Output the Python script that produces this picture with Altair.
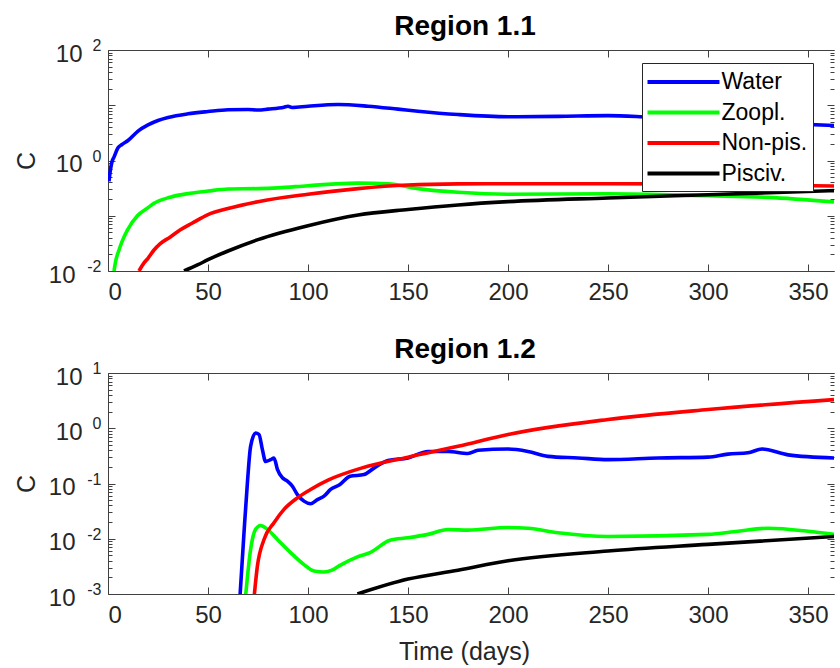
import altair as alt
import pandas as pd

SERIES = ["Water", "Zoopl.", "Non-pis.", "Pisciv."]
COLORS = ["#0000ff", "#00ff00", "#ff0000", "#000000"]
X_TICKS = [0, 50, 100, 150, 200, 250, 300, 350]

# ---------------- Region 1.1 ----------------
r1_water_day = [0.5, 1, 2, 3, 5, 7, 10, 15, 20, 25, 30, 40, 50, 60, 70, 75, 80, 88, 90, 92,
                100, 115, 130, 145, 155, 175, 200, 225, 250, 270, 300, 330, 363]
r1_water_c = [0.42, 0.6, 0.95, 1.15, 1.7, 1.95, 2.3, 3.4, 4.4, 5.3, 6.0, 7.0, 7.7, 8.3, 8.4, 8.2,
              8.5, 9.2, 9.6, 9.1, 9.6, 10.3, 9.6, 8.5, 7.8, 6.8, 6.2, 6.3, 6.5, 6.1, 5.4, 4.8, 4.3]
r1_zoo_day = [3, 4, 5.5, 7, 9.7, 14.7, 20, 23, 31, 41, 50, 60, 75, 85, 100, 125, 140, 155, 175,
              200, 250, 300, 330, 363]
r1_zoo_c = [0.01, 0.016, 0.024, 0.034, 0.055, 0.1, 0.14, 0.168, 0.216, 0.255, 0.28, 0.305, 0.31,
            0.32, 0.35, 0.39, 0.38, 0.31, 0.266, 0.245, 0.25, 0.23, 0.215, 0.178]
r1_non_day = [15.5, 18, 20, 23, 26, 31, 36, 42, 50, 60, 75, 100, 125, 150, 175, 200, 250, 300, 363]
r1_non_c = [0.01, 0.014, 0.017, 0.024, 0.031, 0.041, 0.055, 0.073, 0.105, 0.135, 0.18, 0.245,
            0.31, 0.36, 0.377, 0.38, 0.38, 0.375, 0.345]
r1_pis_day = [38, 45, 50, 60, 75, 100, 125, 150, 175, 200, 250, 300, 363]
r1_pis_c = [0.01, 0.013, 0.016, 0.023, 0.037, 0.066, 0.103, 0.13, 0.157, 0.18, 0.21, 0.24, 0.285]

# ---------------- Region 1.2 ----------------
r2_water_day = [65.8, 68, 69.7, 71.3, 73.8, 75.5, 77.2, 78.8, 81.3, 83, 84.7, 87.2, 89.7, 92.2,
                94.7, 98, 101.3, 104.7, 108, 111.3, 116, 121, 128, 133, 140, 150, 160, 170, 180,
                185, 200, 210, 220, 235, 250, 275, 300, 310, 320, 327, 340, 363]
r2_water_c = [0.0007, 0.0129, 0.103, 0.47, 0.82, 0.77, 0.41, 0.25, 0.27, 0.29, 0.18, 0.127, 0.11,
              0.089, 0.063, 0.048, 0.043, 0.051, 0.059, 0.078, 0.096, 0.135, 0.145, 0.19, 0.26,
              0.29, 0.38, 0.38, 0.35, 0.40, 0.42, 0.38, 0.31, 0.29, 0.27, 0.29, 0.30, 0.34, 0.36,
              0.42, 0.33, 0.29]
r2_zoo_day = [68.5, 71.3, 73.8, 76.3, 79.7, 84.7, 91.3, 98, 103, 108, 112, 116, 124.7, 131, 141,
              150, 160, 170, 180, 200, 210, 225, 250, 300, 315, 330, 350, 363]
r2_zoo_c = [0.0007, 0.0064, 0.0148, 0.0174, 0.0148, 0.0097, 0.0056, 0.0034, 0.0026, 0.0025,
            0.0027, 0.0033, 0.0047, 0.0056, 0.0094, 0.0104, 0.012, 0.0147, 0.0143, 0.016, 0.0155,
            0.0128, 0.011, 0.012, 0.0137, 0.0155, 0.0137, 0.012]
r2_non_day = [72.8, 74.7, 78, 83, 88, 94.7, 101.3, 110, 126.7, 150, 175, 200, 250, 300, 363]
r2_non_c = [0.0007, 0.0032, 0.0097, 0.0195, 0.034, 0.055, 0.078, 0.115, 0.19, 0.30, 0.47, 0.77,
            1.44, 2.18, 3.3]
r2_pis_day = [124.7, 150, 175, 200, 250, 300, 363]
r2_pis_c = [0.001, 0.00186, 0.0027, 0.004, 0.006, 0.0079, 0.011]

FONT = "Liberation Sans"
AX = "#404040"
W, H = 726, 221


def frame(parts):
    rows = []
    for name, days, vals in parts:
        for d, v in zip(days, vals):
            rows.append({"day": d, "C": v, "series": name})
    return pd.DataFrame(rows)


def tick_axis(orient, values, size, domain=False):
    return alt.Axis(orient=orient, values=values, labels=False, domain=domain, domainColor=AX,
                    ticks=True, tickSize={"expr": str(-size)}, tickColor=AX, title=None,
                    minExtent=0, grid=False)


def panel(df, lo, hi, label_values, title, xtitle, legend):
    majors = [10.0 ** e for e in range(lo, hi + 1)]
    minors = [k * 10.0 ** e for e in range(lo, hi) for k in range(2, 10)]
    xs = alt.Scale(domain=[0, 363], nice=False, zero=False)
    ys = alt.Scale(type="log", domain=[10.0 ** lo, 10.0 ** hi], nice=False)
    base = alt.Chart(df)

    xaxis_kw = dict(orient="bottom", values=X_TICKS, ticks=False, tickSize=0, labelPadding=9,
                    domain=True, domainColor=AX, labelFontSize=24, minExtent=0)
    if xtitle:
        xaxis_kw.update(title=xtitle, titleX=356, titleY=65, titleBaseline="alphabetic",
                        titleFontSize=25, titleFontWeight="normal")
    else:
        xaxis_kw.update(title=None)

    lines = base.mark_line(strokeWidth=3.6, clip=True, interpolate="monotone").encode(
        x=alt.X("day:Q", scale=xs, axis=alt.Axis(**xaxis_kw)),
        y=alt.Y("C:Q", scale=ys, axis=alt.Axis(
            orient="left", values=label_values, labelExpr="'10'", ticks=False, tickSize=0,
            labelPadding={"condition": {"test": "datum.value < 1", "value": 33}, "value": 26},
            labelOffset=4, labelFontSize=24, domain=True, domainColor=AX, minExtent=0,
            title="C", titleX=-74, titleY=110.5, titleAngle=270, titleAlign="center",
            titleBaseline="alphabetic", titleFontSize=25, titleFontWeight="normal")),
        color=alt.Color("series:N", scale=alt.Scale(domain=SERIES, range=COLORS), legend=legend),
    )

    def ghost(xaxis, yaxis):
        return base.mark_point(opacity=0, clip=True).encode(
            x=alt.X("day:Q", scale=xs, axis=xaxis),
            y=alt.Y("C:Q", scale=ys, axis=yaxis),
        )

    g1 = ghost(tick_axis("bottom", X_TICKS, 7), tick_axis("left", majors, 7))
    g2 = ghost(tick_axis("top", X_TICKS, 7, domain=True), tick_axis("right", majors, 7))
    g3 = ghost(None, tick_axis("left", minors, 4))
    g4 = ghost(None, tick_axis("right", minors, 4))
    g5 = ghost(None, alt.Axis(
        orient="left", values=label_values, labelExpr="'' + round(log(datum.value)/LN10)",
        labelFontSize=16, labelAlign="right", labelPadding=7, labelOffset=-4.5,
        ticks=False, tickSize=0, domain=False, title=None, minExtent=0))

    return alt.layer(lines, g1, g2, g3, g4, g5).resolve_axis(
        x="independent", y="independent"
    ).properties(
        width=W, height=H,
        title=alt.TitleParams(text=title, fontSize=28, fontWeight="bold", font=FONT,
                              color="#000000", anchor="middle", dx=-6, offset=-25,
                              baseline="alphabetic"),
    )


df1 = frame([("Water", r1_water_day, r1_water_c), ("Zoopl.", r1_zoo_day, r1_zoo_c),
             ("Non-pis.", r1_non_day, r1_non_c), ("Pisciv.", r1_pis_day, r1_pis_c)])
df2 = frame([("Water", r2_water_day, r2_water_c), ("Zoopl.", r2_zoo_day, r2_zoo_c),
             ("Non-pis.", r2_non_day, r2_non_c), ("Pisciv.", r2_pis_day, r2_pis_c)])

legend1 = alt.Legend(
    orient="none", legendX=534, legendY=13, title=None,
    symbolType="M-3.0,0H3.0", symbolSize=576, symbolStrokeWidth=4, symbolOffset=22.5,
    labelOffset=24, labelFontSize=23, labelFont=FONT, labelColor="#000000", labelLimit=400,
    padding=5, rowPadding=4.5, strokeColor="#262626", fillColor="#ffffff",
)

p1 = panel(df1, -2, 2, [0.01, 1, 100], "Region 1.1", None, legend1)
p2 = panel(df2, -3, 1, [0.001, 0.01, 0.1, 1, 10], "Region 1.2", "Time (days)", None)

chart = alt.vconcat(p1, p2, spacing=102, bounds="flush").resolve_legend(
    color="independent"
).properties(
    padding={"left": 13, "top": 12, "right": 0, "bottom": 0}
).configure_view(
    stroke="transparent"
).configure_axis(
    grid=False, labelFont=FONT, titleFont=FONT, labelColor="#262626", titleColor="#262626",
    domainWidth=1, tickWidth=1,
)

chart.save("out.html", embed_options={"renderer": "svg", "actions": False})
